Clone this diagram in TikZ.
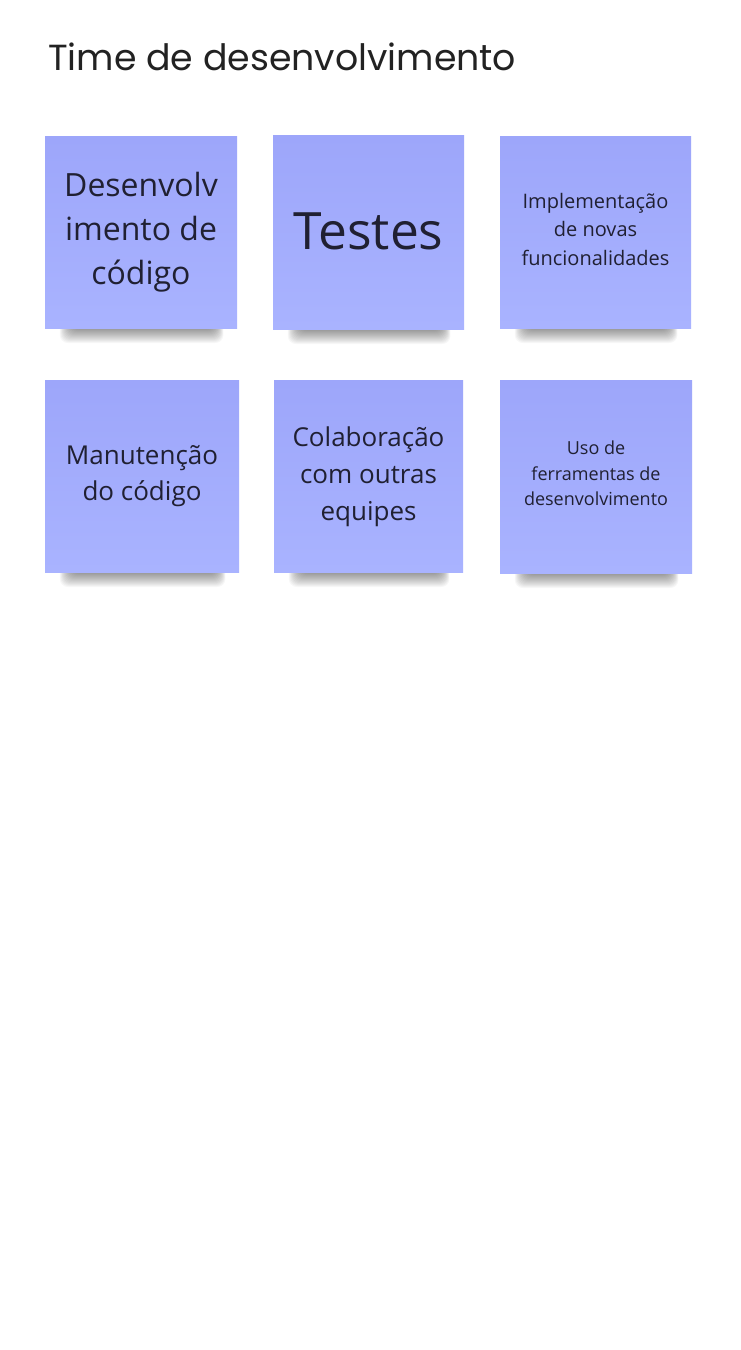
\documentclass[tikz,border=0pt]{standalone}
\usepackage{fontspec}
\setmainfont{Open Sans}
\newfontfamily\titlefont{Poppins}
\definecolor{notetop}{RGB}{157,166,250}
\definecolor{notebot}{RGB}{169,179,255}
\definecolor{inkdark}{RGB}{32,32,50}
\definecolor{titleink}{RGB}{34,34,34}

\tikzset{
  notecard/.style={rectangle, inner sep=0pt, draw=none,
    top color=notetop, bottom color=notebot},
  notetext/.style={align=center, text=inkdark, inner sep=0pt},
  heading/.style={anchor=base west, inner sep=0pt, text=titleink,
    font=\titlefont\fontsize{36.3}{40}\selectfont},
}

% sticky note: name, left, top, right, bottom, font size, line skip, text shift, text
\newcommand\stickynote[9]{%
  % soft drop shadow under the lower edge
  \foreach \i in {0,...,14}{
    \fill[black, opacity=0.03, rounded corners=8pt]
      (#2+26-\i*0.8, #5-16) rectangle (#4-22+\i*0.6, #5+1+\i*1.0);
  }
  \node[notecard, minimum width={#4-#2}, minimum height={#5-#3}]
    (#1) at ({(#2+#4)/2},{(#3+#5)/2}) {};
  \node[notetext, font=\fontsize{#6}{#7}\selectfont]
    (#1-text) at ([yshift=#8pt]#1.center) {#9};
}

\begin{document}
\begin{tikzpicture}[x=1pt, y=-1pt]
  \useasboundingbox (0,0) rectangle (740,1350);
  \fill[white] (0,0) rectangle (740,1350);

  \node[heading] (title) at (48,70) {Time de desenvolvimento};

  \stickynote{dev}{45}{136}{237}{328}{32}{44}{0}{Desenvolv\\imento de\\código}
  \stickynote{tests}{273}{135}{464}{329}{51.5}{56}{1}{Testes}
  \stickynote{impl}{500}{136}{691}{328}{20}{28.5}{3}{Implementação\\de novas\\funcionalidades}
  \stickynote{maint}{45}{380}{239}{572}{26}{36}{-0.5}{Manutenção\\do código}
  \stickynote{collab}{274}{380}{463}{572}{26}{37}{-1}{Colaboração\\com outras\\equipes}
  \stickynote{tools}{500}{380}{692}{573}{18}{25.5}{3}{Uso de\\ferramentas de\\desenvolvimento}
\end{tikzpicture}
\end{document}
